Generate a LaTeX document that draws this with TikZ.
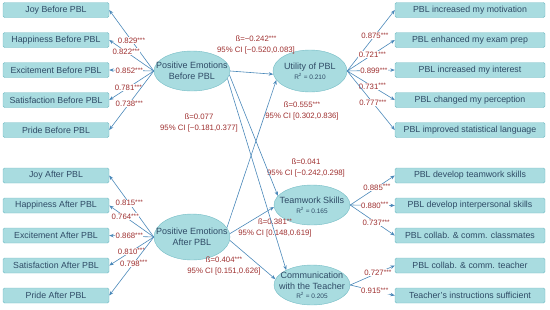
\documentclass[tikz,border=0pt]{standalone}
\usepackage{fontspec}
\setmainfont{Liberation Sans}
\usetikzlibrary{shapes.geometric, positioning, arrows.meta}
\definecolor{boxfill}{HTML}{A9DCE0}
\definecolor{boxline}{HTML}{74BCC5}
\definecolor{txtblue}{HTML}{2F4B66}
\definecolor{pathblue}{HTML}{4A88B9}
\definecolor{coefred}{HTML}{9E2F2F}
\newcommand{\sig}[1]{\raisebox{1.2pt}{\fontsize{6.5}{6.5}\selectfont #1}}

\begin{document}
\begin{tikzpicture}[x=1pt, y=-1pt,
    item/.style={rectangle, draw=boxline, fill=boxfill, text=txtblue,
                 font=\fontsize{8.8}{10}\selectfont, rounded corners=1.5pt,
                 minimum height=15pt, inner sep=1pt},
    leftitem/.style={item, minimum width=106pt},
    rightitem/.style={item, minimum width=150pt},
    construct/.style={ellipse, draw=boxline, fill=boxfill, text=txtblue,
                      align=center, font=\fontsize{9}{11}\selectfont,
                      inner xsep=-10pt, inner ysep=-8pt,
                      minimum width=76pt, minimum height=40pt},
    arrow/.style={draw=pathblue, line width=0.6pt,
                  -{Stealth[length=4.5pt, width=3.5pt]}},
    load/.style={font=\fontsize{7.8}{9}\selectfont, text=coefred,
                 fill=white, inner sep=0.6pt},
    coef/.style={font=\fontsize{7.8}{10.5}\selectfont, text=coefred,
                 align=center, inner sep=0pt}
]
    \useasboundingbox (0,0) rectangle (550,309);

    % constructs
    \node[construct] (before)   at (192,71)  {Positive Emotions\\Before PBL};
    \node[construct, minimum height=46pt] (after) at (192,237) {Positive Emotions\\After PBL};
    \node[construct, minimum width=74pt, minimum height=42pt] (utility) at (310,71)
        {Utility of PBL\\[-1pt]{\fontsize{6.5}{8}\selectfont R\textsuperscript{2} = 0.210}};
    \node[construct] (teamwork) at (312,205)
        {Teamwork Skills\\[-1pt]{\fontsize{6.5}{8}\selectfont R\textsuperscript{2} = 0.165}};
    \node[construct] (comm)     at (312,285)
        {Communication\\with the Teacher\\[-2pt]{\fontsize{6.5}{8}\selectfont R\textsuperscript{2} = 0.205}};

    % indicators before
    \node[leftitem] (joyB)  at (56,10)  {Joy Before PBL};
    \node[leftitem] (hapB)  at (56,40)  {Happiness Before PBL};
    \node[leftitem] (excB)  at (56,70)  {Excitement Before PBL};
    \node[leftitem] (satB)  at (56,100) {Satisfaction Before PBL};
    \node[leftitem] (priB)  at (56,130) {Pride Before PBL};

    % indicators after
    \node[leftitem] (joyA)  at (56,175.5) {Joy After PBL};
    \node[leftitem] (hapA)  at (56,205.5) {Happiness After PBL};
    \node[leftitem] (excA)  at (56,235.5) {Excitement After PBL};
    \node[leftitem] (satA)  at (56,265.5) {Satisfaction After PBL};
    \node[leftitem] (priA)  at (56,295.5) {Pride After PBL};

    % outcome indicators
    \node[rightitem] (motiv)  at (470,10)    {PBL increased my motivation};
    \node[rightitem] (exam)   at (470,40)    {PBL enhanced my exam prep};
    \node[rightitem] (inter)  at (470,70)    {PBL increased my interest};
    \node[rightitem] (percep) at (470,100)   {PBL changed my perception};
    \node[rightitem] (statl)  at (470,130)   {PBL improved statistical language};
    \node[rightitem] (teamsk) at (470,175.5) {PBL develop teamwork skills};
    \node[rightitem] (intpsk) at (470,205.5) {PBL develop interpersonal skills};
    \node[rightitem] (classm) at (470,235.5) {PBL collab. \& comm. classmates};
    \node[rightitem] (teachr) at (470,265.5) {PBL collab. \& comm. teacher};
    \node[rightitem] (suffic) at (470,295.5) {Teacher's instructions sufficient};

    % path coefficients
    \node[coef] (cBU) at (256,45)  {ß=−0.242\sig{***}\\95\% CI [−0.520,0.083]};
    \node[coef] (cBC) at (199,123) {ß=0.077\\95\% CI [−0.181,0.377]};
    \node[coef] (cAU) at (302,111) {ß=0.555\sig{***}\\95\% CI [0.302,0.836]};
    \node[coef] (cBT) at (306,168) {ß=0.041\\95\% CI [−0.242,0.298]};
    \node[coef] (cAT) at (275,228) {ß=0.381\sig{**}\\95\% CI [0.148,0.619]};
    \node[coef] (cAC) at (224,266) {ß=0.404\sig{***}\\95\% CI [0.151,0.626]};

    % structural paths
    \draw[arrow] (before.east) -- (utility.185);
    \draw[arrow] (before.-6)   -- (teamwork.165);
    \draw[arrow] (before.-12)  -- (comm.150);
    \draw[arrow] (after.15)    -- (utility.195);
    \draw[arrow] (after.5)     -- (teamwork.183);
    \draw[arrow] (after.-5)    -- (comm.171);

    % loadings before
    \draw[arrow] (before.west) -- node[load, pos=0.5]  {0.829\sig{***}} (joyB.east);
    \draw[arrow] (before.west) -- node[load, pos=0.62] {0.822\sig{***}} (hapB.east);
    \draw[arrow] (before.west) -- node[load, pos=0.55] {0.852\sig{***}} (excB.east);
    \draw[arrow] (before.west) -- node[load, pos=0.57] {0.781\sig{***}} (satB.east);
    \draw[arrow] (before.west) -- node[load, pos=0.55] {0.738\sig{***}} (priB.east);

    % loadings after
    \draw[arrow] (after.west) -- node[load, pos=0.55] {0.815\sig{***}} (joyA.east);
    \draw[arrow] (after.west) -- node[load, pos=0.64] {0.764\sig{***}} (hapA.east);
    \draw[arrow] (after.west) -- node[load, pos=0.55] {0.868\sig{***}} (excA.east);
    \draw[arrow] (after.west) -- node[load, pos=0.5]  {0.810\sig{***}} (satA.east);
    \draw[arrow] (after.west) -- node[load, pos=0.45] {0.798\sig{***}} (priA.east);

    % loadings outcomes
    \draw[arrow] (utility.east)  -- node[load, pos=0.58] {0.875\sig{***}} (motiv.west);
    \draw[arrow] (utility.east)  -- node[load, pos=0.53] {0.721\sig{***}} (exam.west);
    \draw[arrow] (utility.east)  -- node[load, pos=0.56] {0.899\sig{***}} (inter.west);
    \draw[arrow] (utility.east)  -- node[load, pos=0.53] {0.731\sig{***}} (percep.west);
    \draw[arrow] (utility.east)  -- node[load, pos=0.54] {0.777\sig{***}} (statl.west);
    \draw[arrow] (teamwork.east) -- node[load, pos=0.6]  {0.885\sig{***}} (teamsk.west);
    \draw[arrow] (teamwork.east) -- node[load, pos=0.55] {0.880\sig{***}} (intpsk.west);
    \draw[arrow] (teamwork.east) -- node[load, pos=0.58] {0.737\sig{***}} (classm.west);
    \draw[arrow] (comm.east)     -- node[load, pos=0.62] {0.727\sig{***}} (teachr.west);
    \draw[arrow] (comm.east)     -- node[load, pos=0.55] {0.915\sig{***}} (suffic.west);
\end{tikzpicture}
\end{document}
